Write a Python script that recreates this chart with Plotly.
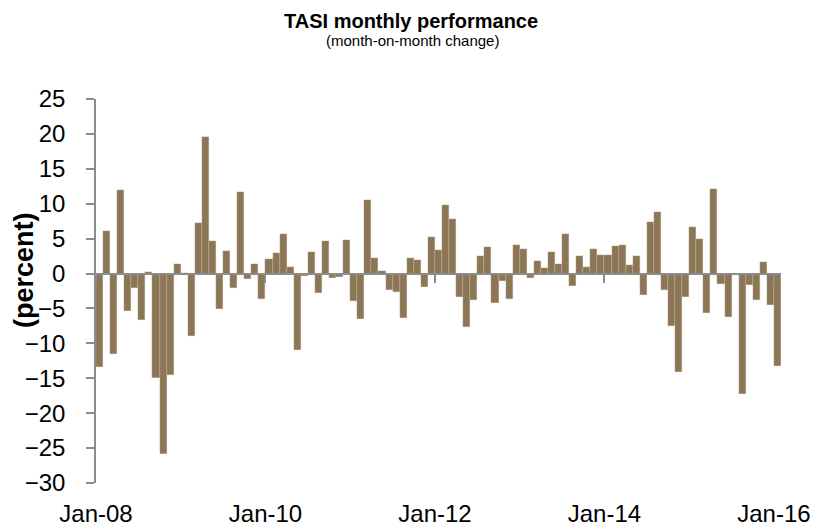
import plotly.graph_objects as go

# Monthly TASI month-on-month change (%), Jan-08 .. Jan-16
values = [
    -13.4, 6.1, -11.5, 11.9, -5.4, -2.0, -6.6, 0.2, -14.9, -25.8, -14.5, 1.3,   # 2008
    0.1, -8.9, 7.2, 19.5, 4.7, -5.1, 3.2, -2.1, 11.7, -0.8, 1.3, -3.7,          # 2009
    2.1, 3.0, 5.6, 1.0, -10.9, -0.4, 3.1, -2.8, 4.7, -0.6, -0.5, 4.8,           # 2010
    -3.9, -6.5, 10.5, 2.2, 0.4, -2.3, -2.7, -6.4, 2.2, 1.9, -1.9, 5.2,          # 2011
    3.4, 9.8, 7.8, -3.4, -7.6, -3.8, 2.5, 3.8, -4.2, -1.0, -3.7, 4.1,           # 2012
    3.5, -0.6, 1.8, 0.8, 3.1, 1.3, 5.6, -1.8, 2.5, 1.0, 3.5, 2.6,               # 2013
    2.7, 4.0, 4.1, 1.2, 2.5, -3.1, 7.4, 8.8, -2.3, -7.5, -14.1, -3.3,           # 2014
    6.6, 4.9, -5.7, 12.1, -1.5, -6.2, -0.2, -17.3, -1.6, -3.8, 1.6, -4.5,       # 2015
    -13.3,                                                                      # Jan-16
]
tick_positions = [0, 24, 48, 72, 96]
tick_labels = ["Jan-08", "Jan-10", "Jan-12", "Jan-14", "Jan-16"]
y_ticks = list(range(-30, 30, 5))

title_text = "TASI monthly performance"
subtitle_text = "(month-on-month change)"
y_title = "(percent)"

FONT = "Liberation Sans, Arial, sans-serif"
BAR = "#8B7755"
AXIS = "#8C8C8C"

n = len(values)
x_centers = [i + 0.5 for i in range(n)]

fig = go.Figure()
fig.add_trace(go.Bar(
    x=x_centers, y=values, width=1.0,
    marker=dict(color=BAR, line=dict(color="#D8CCB6", width=0.3)),
    xaxis="x", yaxis="y", showlegend=False,
))
# invisible trace to carry the bottom label axis
fig.add_trace(go.Scatter(
    x=tick_positions, y=[None] * len(tick_positions),
    xaxis="x2", yaxis="y", showlegend=False, hoverinfo="skip",
))

ymin, ymax = -30, 25
zero_pos = (0 - ymin) / (ymax - ymin)

# page body has an 8px margin; figure sized to fit the 827x532 window
OFF = 8
W, H = 827 - OFF, 532 - OFF
PL, PR, PT, PB = 96, 781, 99, 483          # plot box in window pixels
L, T = PL - OFF, PT - OFF
R, B = W + OFF - PR, H + OFF - PB
PW, PH = PR - PL, PB - PT


def px_x(x):
    return (x - PL) / PW


def px_y(y):
    return (PB - y) / PH


fig.update_layout(
    width=W, height=H,
    margin=dict(l=L, r=R, t=T, b=B, autoexpand=False),
    paper_bgcolor="white", plot_bgcolor="white",
    font=dict(family=FONT, color="black"),
    bargap=0,
    xaxis=dict(
        range=[0, n], anchor="free", position=zero_pos,
        showline=True, linecolor=AXIS, linewidth=2,
        ticks="outside", ticklen=8, tickcolor=AXIS, tickwidth=1.5,
        tickvals=tick_positions, showticklabels=False,
        showgrid=False, zeroline=False, automargin=False,
    ),
    xaxis2=dict(
        range=[0, n], overlaying="x", anchor="y", side="bottom",
        tickvals=tick_positions, ticktext=tick_labels,
        showline=False, ticks="", showgrid=False, zeroline=False,
        tickfont=dict(size=24, family=FONT, color="black"),
        ticklabelstandoff=14, automargin=False,
    ),
    yaxis=dict(
        range=[ymin, ymax], tickvals=y_ticks,
        showline=True, linecolor=AXIS, linewidth=1.5,
        ticks="outside", ticklen=8, tickcolor=AXIS, tickwidth=1.5,
        tickfont=dict(size=24, family=FONT, color="black"),
        ticklabelstandoff=16, automargin=False,
        showgrid=False, zeroline=False,
    ),
    annotations=[
        dict(text="<b>" + title_text + "</b>",
             xref="paper", yref="paper",
             x=px_x(411), y=px_y(21), xanchor="center", yanchor="middle",
             showarrow=False, font=dict(size=20, family=FONT, color="black")),
        dict(text=subtitle_text,
             xref="paper", yref="paper",
             x=px_x(412), y=px_y(40), xanchor="center", yanchor="middle",
             showarrow=False, font=dict(size=15, family=FONT, color="black")),
        dict(text="<b>" + y_title + "</b>", xref="paper", yref="paper",
             x=px_x(24), y=px_y(270), xanchor="center", yanchor="middle",
             textangle=-90, showarrow=False, font=dict(size=27, family=FONT, color="black")),
    ],
)

fig.write_html("out.html")
